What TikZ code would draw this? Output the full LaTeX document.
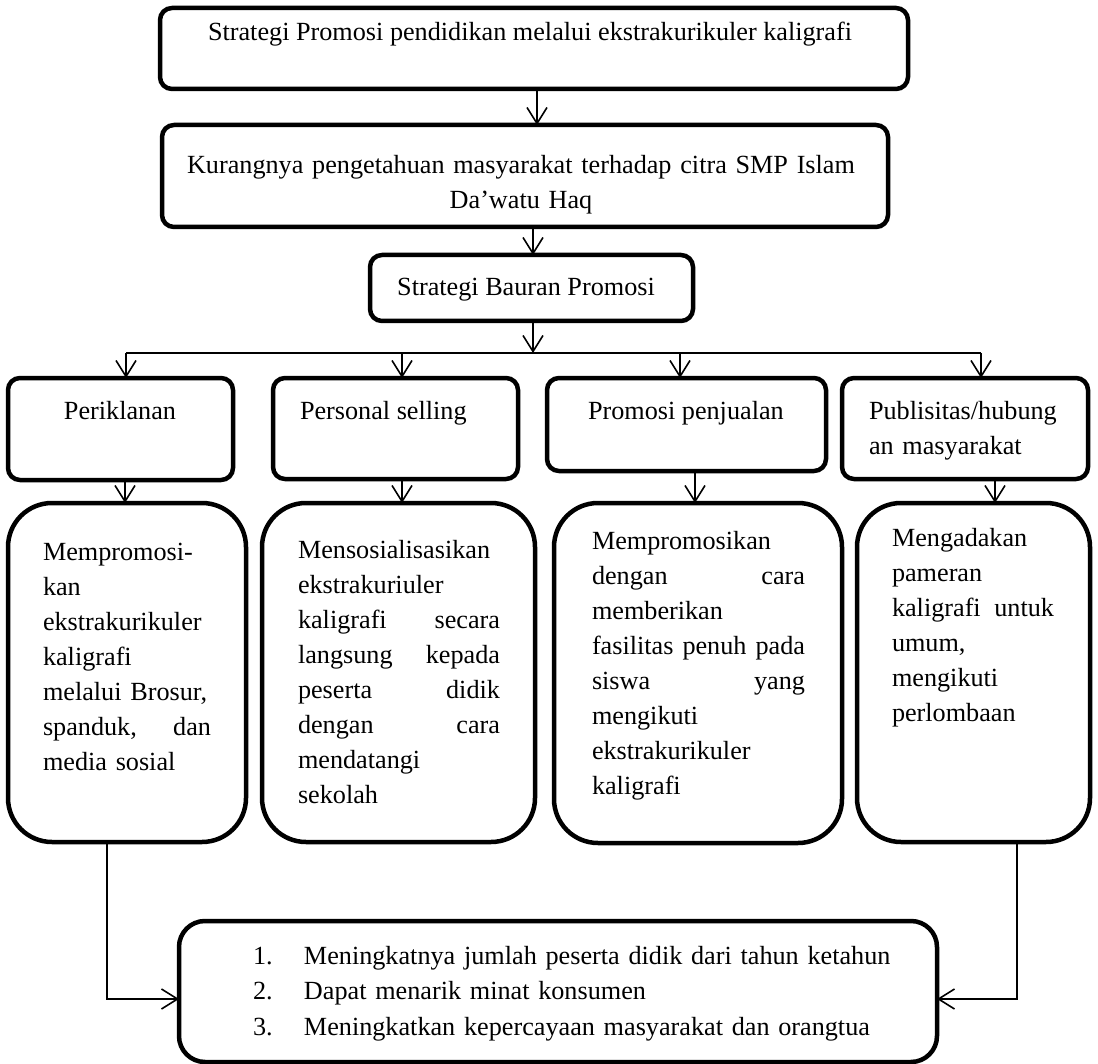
\documentclass[tikz,border=0pt]{standalone}
\usepackage{fontspec}
\setmainfont{Liberation Serif}
\usetikzlibrary{arrows.meta}
\begin{document}
\begin{tikzpicture}[x=0.5pt,y=-0.5pt,
  box/.style={draw, line width=2.25pt, rounded corners=6pt, inner sep=0pt, outer sep=0pt},
  bigbox/.style={box, rounded corners=22pt},
  lbl/.style={inner sep=0pt, outer sep=0pt, font=\fontsize{13.1pt}{17.5pt}\selectfont},
  arr/.style={-{Straight Barb[length=8pt,width=10pt]}, line width=0.8pt},
  ln/.style={line width=0.8pt}]
\useasboundingbox (0,0) rectangle (1098,1064);

% top chain
\node[box, minimum width=374pt, minimum height=40.5pt] (b1) at (534,48.5) {};
\node[box, minimum width=363pt, minimum height=51pt] (b2) at (525,176) {};
\node[box, minimum width=161.5pt, minimum height=33pt] (b3) at (531.5,288) {};

\node[lbl, anchor=base] (t1) at (530,41) {Strategi Promosi pendidikan melalui ekstrakurikuler kaligrafi};
\node[lbl, anchor=base, text width=360pt, align=center] (t2) at (521,174) {Kurangnya pengetahuan masyarakat terhadap citra SMP Islam\\Da’watu Haq};
\node[lbl, anchor=base] (t3) at (526,296) {Strategi Bauran Promosi};

% row of four
\node[box, minimum width=112.5pt, minimum height=51pt] (p1) at (120.5,429) {};
\node[box, minimum width=122.5pt, minimum height=50.5pt] (p2) at (395.5,428.5) {};
\node[box, minimum width=139.5pt, minimum height=46.5pt] (p3) at (686.5,424.5) {};
\node[box, minimum width=123pt, minimum height=50.5pt] (p4) at (965,428.5) {};

\node[lbl, anchor=base] (tp1) at (120,419) {Periklanan};
\node[lbl, anchor=base west] (tp2) at (300,419) {Personal selling};
\node[lbl, anchor=base west] (tp3) at (588,419) {Promosi penjualan};
\node[lbl, anchor=base west, text width=100pt, align=left] (tp4) at (869,419) {Publisitas/hubung\\an masyarakat};

% lower row
\node[bigbox, minimum width=119pt, minimum height=169.5pt] (q1) at (127,672.5) {};
\node[bigbox, minimum width=136.5pt, minimum height=169.5pt] (q2) at (398.5,672.5) {};
\node[bigbox, minimum width=144pt, minimum height=170pt] (q3) at (698,673) {};
\node[bigbox, minimum width=116.5pt, minimum height=169.5pt] (q4) at (973.5,672.5) {};

\node[lbl, anchor=base west, text width=84pt, align=left] (tq1) at (43,560)
  {Mempromosi-\\kan\\ekstrakurikuler\\kaligrafi\\melalui Brosur,\\spanduk,\hfill dan\\media sosial};
\node[lbl, anchor=base west, text width=101pt, align=left] (tq2) at (298,558)
  {Mensosialisasikan\\ekstrakuriuler\\kaligrafi\hfill secara\\langsung\hfill kepada\\peserta\hfill didik\\dengan\hfill cara\\mendatangi\\sekolah};
\node[lbl, anchor=base west, text width=106.5pt, align=left] (tq3) at (592,549)
  {Mempromosikan\\dengan\hfill cara\\memberikan\\fasilitas\hfill penuh\hfill pada\\siswa\hfill yang\\mengikuti\\ekstrakurikuler\\kaligrafi};
\node[lbl, anchor=base west, text width=81pt, align=left] (tq4) at (892,546)
  {Mengadakan\\pameran\\kaligrafi\hfill untuk\\umum,\\mengikuti\\perlombaan};

% final box
\node[box, rounded corners=13pt, minimum width=379pt, minimum height=70.5pt] (f) at (558,991.5) {};
\node[lbl, font=\fontsize{13.1pt}{17.75pt}\selectfont, anchor=base west, text width=340pt, align=left] (tf) at (253,964)
  {\makebox[25.5pt][l]{1.}Meningkatnya jumlah peserta didik dari tahun ketahun\\
   \makebox[25.5pt][l]{2.}Dapat menarik minat konsumen\\
   \makebox[25.5pt][l]{3.}Meningkatkan kepercayaan masyarakat dan orangtua};

% connectors top chain
\coordinate (x1) at (537,0);
\coordinate (x2) at (533,0);
\draw[arr] (b1.south -| x1) -- (b2.north -| x1);
\draw[arr] (b2.south -| x2) -- (b3.north -| x2);
\coordinate (busM) at (533,353);
\draw[arr] (b3.south -| busM) -- (busM);

% bus
\coordinate (busL) at (126,353);
\coordinate (busB) at (402,353);
\coordinate (busC) at (680,353);
\coordinate (busR) at (981,353);
\draw[ln] (busL) -- (busR);
\draw[arr] (busL) -- (p1.north -| busL);
\draw[arr] (busB) -- (p2.north -| busB);
\draw[arr] (busC) -- (p3.north -| busC);
\draw[arr] (busR) -- (p4.north -| busR);

% row to lower row
\coordinate (d1) at (125,0);
\coordinate (d2) at (402,0);
\coordinate (d3) at (695,0);
\coordinate (d4) at (995,0);
\draw[arr] (p1.south -| d1) -- (q1.north -| d1);
\draw[arr] (p2.south -| d2) -- (q2.north -| d2);
\draw[arr] (p3.south -| d3) -- (q3.north -| d3);
\draw[arr] (p4.south -| d4) -- (q4.north -| d4);

% to final box
\coordinate (j1) at (107,999);
\coordinate (j4) at (1017,999);
\draw[arr] (q1.south -| j1) -- (j1) -- (f.west |- j1);
\draw[arr] (q4.south -| j4) -- (j4) -- (f.east |- j4);
\end{tikzpicture}
\end{document}
